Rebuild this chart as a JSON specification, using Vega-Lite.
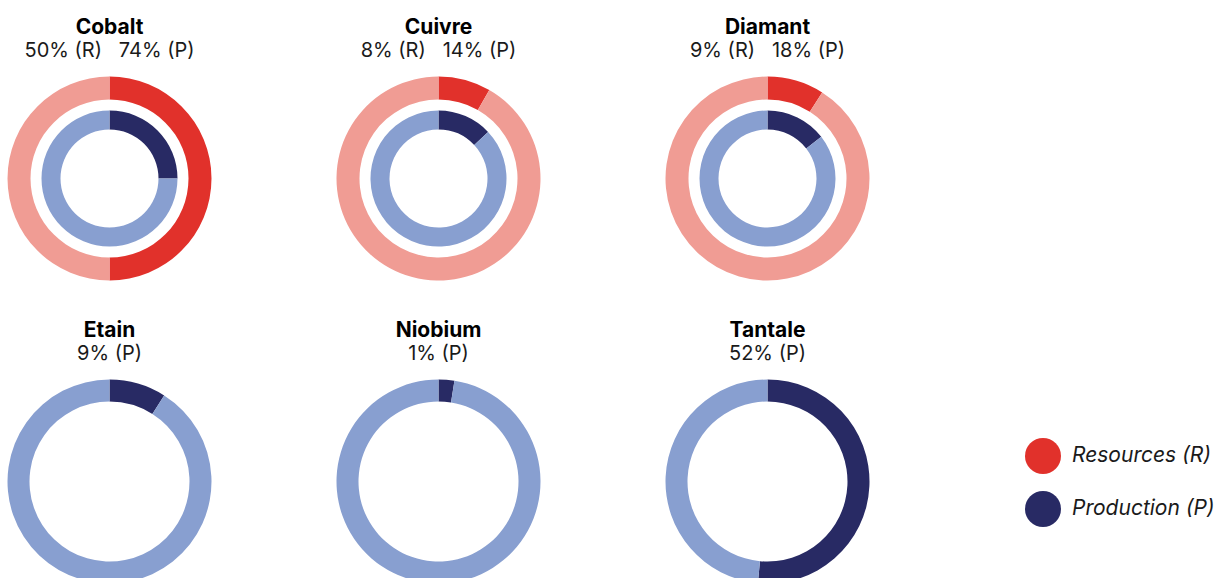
{
  "$schema": "https://vega.github.io/schema/vega-lite/v6.json",
  "padding": {"left": 7, "top": 17, "right": 0, "bottom": 0},
  "background": "white",
  "datasets": {
    "d": [
      {"mineral": "Cobalt", "ring": "R", "part": "Resources (R)", "seg": 0, "value": 50},
      {"mineral": "Cobalt", "ring": "R", "part": "R_rest", "seg": 1, "value": 50},
      {"mineral": "Cobalt", "ring": "P", "part": "Production (P)", "seg": 0, "value": 25},
      {"mineral": "Cobalt", "ring": "P", "part": "P_rest", "seg": 1, "value": 75},
      {"mineral": "Cuivre", "ring": "R", "part": "Resources (R)", "seg": 0, "value": 8.3},
      {"mineral": "Cuivre", "ring": "R", "part": "R_rest", "seg": 1, "value": 91.7},
      {"mineral": "Cuivre", "ring": "P", "part": "Production (P)", "seg": 0, "value": 13},
      {"mineral": "Cuivre", "ring": "P", "part": "P_rest", "seg": 1, "value": 87},
      {"mineral": "Diamant", "ring": "R", "part": "Resources (R)", "seg": 0, "value": 9},
      {"mineral": "Diamant", "ring": "R", "part": "R_rest", "seg": 1, "value": 91},
      {"mineral": "Diamant", "ring": "P", "part": "Production (P)", "seg": 0, "value": 14.5},
      {"mineral": "Diamant", "ring": "P", "part": "P_rest", "seg": 1, "value": 85.5},
      {"mineral": "Etain", "ring": "P", "part": "Production (P)", "seg": 0, "value": 9},
      {"mineral": "Etain", "ring": "P", "part": "P_rest", "seg": 1, "value": 91},
      {"mineral": "Niobium", "ring": "P", "part": "Production (P)", "seg": 0, "value": 2.5},
      {"mineral": "Niobium", "ring": "P", "part": "P_rest", "seg": 1, "value": 97.5},
      {"mineral": "Tantale", "ring": "P", "part": "Production (P)", "seg": 0, "value": 51.5},
      {"mineral": "Tantale", "ring": "P", "part": "P_rest", "seg": 1, "value": 48.5}
    ]
  },
  "vconcat": [
    {
      "hconcat": [
        {
          "width": 205, "height": 205,
          "title": {"text": "Cobalt", "subtitle": "50% (R) \u00a0 74% (P)"},
          "data": {"name": "d"},
          "transform": [{"filter": "datum.mineral === 'Cobalt'"}],
          "layer": [
            {"transform": [{"filter": "datum.ring === 'R'"}], "mark": {"type": "arc", "outerRadius": 102, "innerRadius": 79},
             "encoding": {"theta": {"field": "value", "type": "quantitative", "stack": true}, "order": {"field": "seg", "type": "quantitative"},
               "color": {"field": "part", "type": "nominal", "scale": {"domain": ["Resources (R)", "Production (P)", "R_rest", "P_rest"], "range": ["#E1312B", "#282A64", "#F09C94", "#889FD0"]}, "legend": {"values": ["Resources (R)", "Production (P)"], "orient": "none", "legendX": 1018, "legendY": 362}}}},
            {"transform": [{"filter": "datum.ring === 'P'"}], "mark": {"type": "arc", "outerRadius": 68, "innerRadius": 49},
             "encoding": {"theta": {"field": "value", "type": "quantitative", "stack": true}, "order": {"field": "seg", "type": "quantitative"},
               "color": {"field": "part", "type": "nominal", "scale": {"domain": ["Resources (R)", "Production (P)", "R_rest", "P_rest"], "range": ["#E1312B", "#282A64", "#F09C94", "#889FD0"]}, "legend": {"values": ["Resources (R)", "Production (P)"], "orient": "none", "legendX": 1018, "legendY": 362}}}}
          ]
        },
        {
          "width": 205, "height": 205,
          "title": {"text": "Cuivre", "subtitle": "8% (R) \u00a0 14% (P)"},
          "data": {"name": "d"},
          "transform": [{"filter": "datum.mineral === 'Cuivre'"}],
          "layer": [
            {"transform": [{"filter": "datum.ring === 'R'"}], "mark": {"type": "arc", "outerRadius": 102, "innerRadius": 79},
             "encoding": {"theta": {"field": "value", "type": "quantitative", "stack": true}, "order": {"field": "seg", "type": "quantitative"},
               "color": {"field": "part", "type": "nominal", "scale": {"domain": ["Resources (R)", "Production (P)", "R_rest", "P_rest"], "range": ["#E1312B", "#282A64", "#F09C94", "#889FD0"]}, "legend": {"values": ["Resources (R)", "Production (P)"], "orient": "none", "legendX": 1018, "legendY": 362}}}},
            {"transform": [{"filter": "datum.ring === 'P'"}], "mark": {"type": "arc", "outerRadius": 68, "innerRadius": 49},
             "encoding": {"theta": {"field": "value", "type": "quantitative", "stack": true}, "order": {"field": "seg", "type": "quantitative"},
               "color": {"field": "part", "type": "nominal", "scale": {"domain": ["Resources (R)", "Production (P)", "R_rest", "P_rest"], "range": ["#E1312B", "#282A64", "#F09C94", "#889FD0"]}, "legend": {"values": ["Resources (R)", "Production (P)"], "orient": "none", "legendX": 1018, "legendY": 362}}}}
          ]
        },
        {
          "width": 205, "height": 205,
          "title": {"text": "Diamant", "subtitle": "9% (R) \u00a0 18% (P)"},
          "data": {"name": "d"},
          "transform": [{"filter": "datum.mineral === 'Diamant'"}],
          "layer": [
            {"transform": [{"filter": "datum.ring === 'R'"}], "mark": {"type": "arc", "outerRadius": 102, "innerRadius": 79},
             "encoding": {"theta": {"field": "value", "type": "quantitative", "stack": true}, "order": {"field": "seg", "type": "quantitative"},
               "color": {"field": "part", "type": "nominal", "scale": {"domain": ["Resources (R)", "Production (P)", "R_rest", "P_rest"], "range": ["#E1312B", "#282A64", "#F09C94", "#889FD0"]}, "legend": {"values": ["Resources (R)", "Production (P)"], "orient": "none", "legendX": 1018, "legendY": 362}}}},
            {"transform": [{"filter": "datum.ring === 'P'"}], "mark": {"type": "arc", "outerRadius": 68, "innerRadius": 49},
             "encoding": {"theta": {"field": "value", "type": "quantitative", "stack": true}, "order": {"field": "seg", "type": "quantitative"},
               "color": {"field": "part", "type": "nominal", "scale": {"domain": ["Resources (R)", "Production (P)", "R_rest", "P_rest"], "range": ["#E1312B", "#282A64", "#F09C94", "#889FD0"]}, "legend": {"values": ["Resources (R)", "Production (P)"], "orient": "none", "legendX": 1018, "legendY": 362}}}}
          ]
        }
      ]
    },
    {
      "hconcat": [
        {
          "width": 205, "height": 205,
          "title": {"text": "Etain", "subtitle": "9% (P)"},
          "data": {"name": "d"},
          "transform": [{"filter": "datum.mineral === 'Etain'"}],
          "mark": {"type": "arc", "outerRadius": 102, "innerRadius": 80},
          "encoding": {"theta": {"field": "value", "type": "quantitative", "stack": true}, "order": {"field": "seg", "type": "quantitative"},
            "color": {"field": "part", "type": "nominal", "scale": {"domain": ["Resources (R)", "Production (P)", "R_rest", "P_rest"], "range": ["#E1312B", "#282A64", "#F09C94", "#889FD0"]}, "legend": {"values": ["Resources (R)", "Production (P)"], "orient": "none", "legendX": 1018, "legendY": 362}}}
        },
        {
          "width": 205, "height": 205,
          "title": {"text": "Niobium", "subtitle": "1% (P)"},
          "data": {"name": "d"},
          "transform": [{"filter": "datum.mineral === 'Niobium'"}],
          "mark": {"type": "arc", "outerRadius": 102, "innerRadius": 80},
          "encoding": {"theta": {"field": "value", "type": "quantitative", "stack": true}, "order": {"field": "seg", "type": "quantitative"},
            "color": {"field": "part", "type": "nominal", "scale": {"domain": ["Resources (R)", "Production (P)", "R_rest", "P_rest"], "range": ["#E1312B", "#282A64", "#F09C94", "#889FD0"]}, "legend": {"values": ["Resources (R)", "Production (P)"], "orient": "none", "legendX": 1018, "legendY": 362}}}
        },
        {
          "width": 205, "height": 205,
          "title": {"text": "Tantale", "subtitle": "52% (P)"},
          "data": {"name": "d"},
          "transform": [{"filter": "datum.mineral === 'Tantale'"}],
          "mark": {"type": "arc", "outerRadius": 102, "innerRadius": 80},
          "encoding": {"theta": {"field": "value", "type": "quantitative", "stack": true}, "order": {"field": "seg", "type": "quantitative"},
            "color": {"field": "part", "type": "nominal", "scale": {"domain": ["Resources (R)", "Production (P)", "R_rest", "P_rest"], "range": ["#E1312B", "#282A64", "#F09C94", "#889FD0"]}, "legend": {"values": ["Resources (R)", "Production (P)"], "orient": "none", "legendX": 1018, "legendY": 362}}}
        }
      ]
    }
  ],
  "spacing": 39,
  "config": {
    "concat": {"spacing": 124},
    "view": {"stroke": null},
    "title": {"font": "Inter", "fontSize": 21, "fontWeight": "bold", "color": "#000000", "anchor": "middle", "offset": 15, "subtitleFont": "Inter", "subtitleFontSize": 20, "subtitleFontWeight": "normal", "subtitleColor": "#1a1a1a", "subtitlePadding": 3},
    "legend": {"title": null, "symbolType": "circle", "symbolSize": 1296, "symbolStrokeWidth": 0, "labelFont": "Inter", "labelFontSize": 21, "labelFontStyle": "italic", "labelColor": "#1a1a1a", "labelOffset": 11, "rowPadding": 17, "labelLimit": 300}
  }
}
